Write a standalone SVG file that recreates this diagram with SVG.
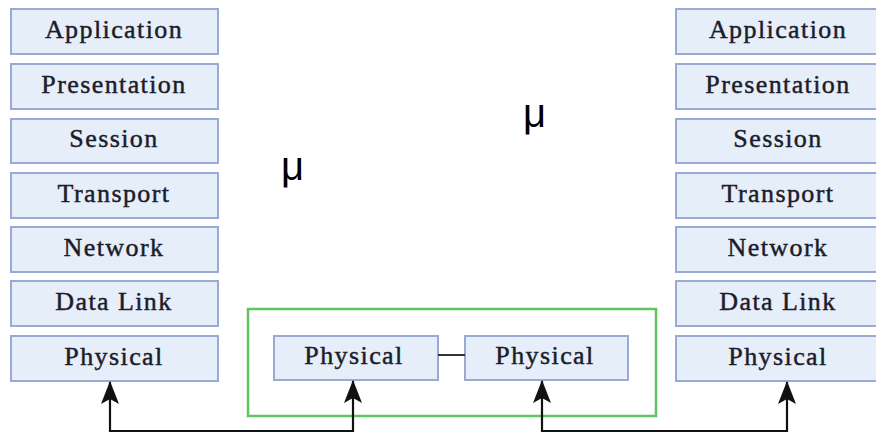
<svg xmlns="http://www.w3.org/2000/svg" width="876" height="434" viewBox="0 0 876 434">
<defs>
<style>
.box{fill:#e6eefa;stroke:#9ba9d6;stroke-width:2}
.lbl{font-family:"Liberation Serif","Times New Roman",serif;font-size:26px;letter-spacing:1.4px;fill:#1c1c2a;stroke:#1c1c2a;stroke-width:0.45;text-anchor:middle}
.mu{font-family:"Liberation Sans",Arial,sans-serif;font-size:40px;fill:#000}
.wire{fill:none;stroke:#111;stroke-width:2.2}
</style>
<marker id="ah" viewBox="-1 -10 25 20" refX="22" refY="0" markerWidth="25" markerHeight="20" markerUnits="userSpaceOnUse" orient="auto">
<path d="M23,0 L0,-9 L5,0 L0,9 z" fill="#111"/>
</marker>
</defs>
<rect width="876" height="434" fill="#fff"/>
<g id="left-stack">
<g id="l-application"><rect class="box" x="11" y="9" width="207" height="45"/><text class="lbl" x="114" y="38">Application</text></g>
<g id="l-presentation"><rect class="box" x="11" y="64" width="207" height="45"/><text class="lbl" x="114" y="93">Presentation</text></g>
<g id="l-session"><rect class="box" x="11" y="119" width="207" height="44"/><text class="lbl" x="114" y="147">Session</text></g>
<g id="l-transport"><rect class="box" x="11" y="173" width="207" height="45"/><text class="lbl" x="114" y="202">Transport</text></g>
<g id="l-network"><rect class="box" x="11" y="227" width="207" height="45"/><text class="lbl" x="114" y="256">Network</text></g>
<g id="l-datalink"><rect class="box" x="11" y="281" width="207" height="45"/><text class="lbl" x="114" y="310">Data Link</text></g>
<g id="l-physical"><rect class="box" x="11" y="336" width="207" height="45"/><text class="lbl" x="114" y="365">Physical</text></g>
</g>
<g id="right-stack">
<g id="r-application"><rect class="box" x="676" y="9" width="207" height="45"/><text class="lbl" x="778" y="38">Application</text></g>
<g id="r-presentation"><rect class="box" x="676" y="64" width="207" height="45"/><text class="lbl" x="778" y="93">Presentation</text></g>
<g id="r-session"><rect class="box" x="676" y="119" width="207" height="44"/><text class="lbl" x="778" y="147">Session</text></g>
<g id="r-transport"><rect class="box" x="676" y="173" width="207" height="45"/><text class="lbl" x="778" y="202">Transport</text></g>
<g id="r-network"><rect class="box" x="676" y="227" width="207" height="45"/><text class="lbl" x="778" y="256">Network</text></g>
<g id="r-datalink"><rect class="box" x="676" y="281" width="207" height="45"/><text class="lbl" x="778" y="310">Data Link</text></g>
<g id="r-physical"><rect class="box" x="676" y="336" width="207" height="45"/><text class="lbl" x="778" y="365">Physical</text></g>
</g>
<g id="medium">
<rect x="248" y="309" width="408" height="107" fill="none" stroke="#5fc65f" stroke-width="2.5"/>
<g id="m-physical-1"><rect class="box" x="274" y="336" width="164" height="44"/><text class="lbl" x="354" y="364">Physical</text></g>
<g id="m-physical-2"><rect class="box" x="465" y="336" width="163" height="44"/><text class="lbl" x="545" y="364">Physical</text></g>
</g>
<g id="mu-labels">
<text class="mu" x="281" y="180">μ</text>
<text class="mu" x="523" y="127">μ</text>
</g>
<g id="connectors">
<line x1="438" y1="355" x2="465" y2="355" stroke="#333" stroke-width="2"/>
<path class="wire" d="M353,431 L110,431 L110,382" marker-end="url(#ah)"/>
<path class="wire" d="M110,431 L353,431 L353,381" marker-end="url(#ah)"/>
<path class="wire" d="M787,431 L542,431 L542,381" marker-end="url(#ah)"/>
<path class="wire" d="M542,431 L787,431 L787,382" marker-end="url(#ah)"/>
</g>
</svg>
